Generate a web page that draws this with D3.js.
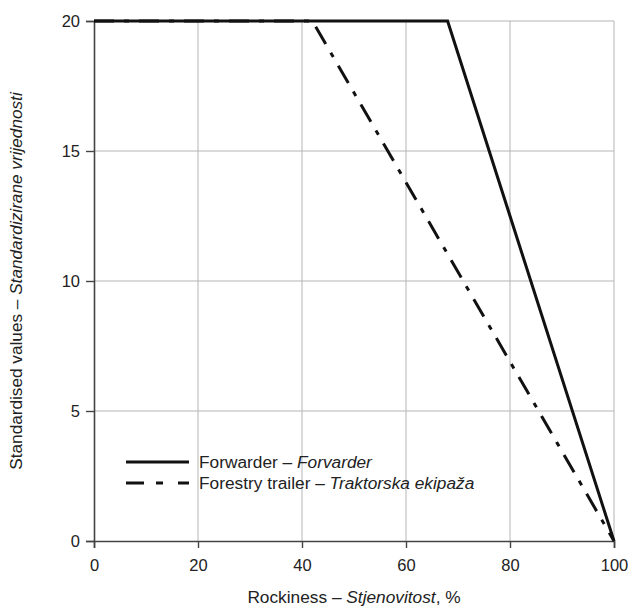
<!DOCTYPE html>
<html>
<head>
<meta charset="utf-8">
<script src="https://cdn.jsdelivr.net/npm/d3@7"></script>
<style>
  body { margin: 0; background: #fff; }
  text { font-family: "Liberation Sans Narrow", "Arial Narrow", "Liberation Sans", Arial, sans-serif; fill: #222; }
</style>
</head>
<body>
<div id="chart"></div>
<script>
// ------------------------------ DATA ------------------------------
var forwarderX = [0, 68, 100],
    forwarderY = [20, 20, 0];
var trailerX = [0, 42, 100],
    trailerY = [20, 20, 0];
var xTicks = [0, 20, 40, 60, 80, 100],
    yTicks = [0, 5, 10, 15, 20];

// ------------------------------ CONFIG ------------------------------
var width = 628, height = 611,
    margin = {left: 94, right: 14, top: 21, bottom: 70},
    plotW = width - margin.left - margin.right,
    plotH = height - margin.top - margin.bottom;

var svg = d3.select("#chart").append("svg")
    .attr("width", width)
    .attr("height", height);

var x = d3.scaleLinear().domain([0, 100]).range([margin.left, margin.left + plotW]),
    y = d3.scaleLinear().domain([0, 20]).range([margin.top + plotH, margin.top]);

// ------------------------------ GRID ------------------------------
svg.append("g").selectAll("line")
    .data(xTicks.slice(1))
    .enter().append("line")
    .attr("x1", function (d) {return x(d);})
    .attr("x2", function (d) {return x(d);})
    .attr("y1", y(0)).attr("y2", y(20))
    .attr("stroke", "#b5b5b5").attr("stroke-width", 1);

svg.append("g").selectAll("line")
    .data(yTicks.slice(1))
    .enter().append("line")
    .attr("x1", x(0)).attr("x2", x(100))
    .attr("y1", function (d) {return y(d);})
    .attr("y2", function (d) {return y(d);})
    .attr("stroke", "#b5b5b5").attr("stroke-width", 1);

// ------------------------------ AXES ------------------------------
var xAxis = svg.append("g")
    .attr("transform", "translate(0," + y(0) + ")")
    .call(d3.axisBottom(x).tickValues(xTicks).tickSize(7).tickPadding(11));
var yAxis = svg.append("g")
    .attr("transform", "translate(" + x(0) + ",0)")
    .call(d3.axisLeft(y).tickValues(yTicks).tickSize(8).tickPadding(6));

[xAxis, yAxis].forEach(function (a) {
    a.select(".domain").attr("stroke", "#444").attr("stroke-width", 1.6);
    a.selectAll(".tick line").attr("stroke", "#444").attr("stroke-width", 1.4);
    a.selectAll(".tick text")
        .attr("font-size", 16.5)
        .attr("font-family", "'Liberation Sans Narrow', 'Arial Narrow', Arial, sans-serif")
        .attr("fill", "#222");
});

// ------------------------------ LINES ------------------------------
var line = d3.line()
    .x(function (d) {return x(d[0]);})
    .y(function (d) {return y(d[1]);});

svg.append("path")
    .datum(d3.zip(trailerX, trailerY))
    .attr("d", line)
    .attr("fill", "none")
    .attr("stroke", "#111")
    .attr("stroke-width", 3)
    .attr("stroke-dasharray", "20,10,5,10");

svg.append("path")
    .datum(d3.zip(forwarderX, forwarderY))
    .attr("d", line)
    .attr("fill", "none")
    .attr("stroke", "#111")
    .attr("stroke-width", 3)
    .attr("stroke-linejoin", "miter");

// ------------------------------ LEGEND ------------------------------
var legend = svg.append("g");
legend.append("line")
    .attr("x1", 126).attr("x2", 189).attr("y1", 462).attr("y2", 462)
    .attr("stroke", "#111").attr("stroke-width", 3);
legend.append("line")
    .attr("x1", 126).attr("x2", 189).attr("y1", 483).attr("y2", 483)
    .attr("stroke", "#111").attr("stroke-width", 3)
    .attr("stroke-dasharray", "18,12,7,15,20");

var l1 = legend.append("text").attr("x", 199).attr("y", 468).attr("font-size", 17.3);
l1.append("tspan").text("Forwarder – ");
l1.append("tspan").attr("font-style", "italic").text("Forvarder");
var l2 = legend.append("text").attr("x", 199).attr("y", 489).attr("font-size", 17.3);
l2.append("tspan").text("Forestry trailer – ");
l2.append("tspan").attr("font-style", "italic").text("Traktorska ekipaža");

// ------------------------------ AXIS LABELS ------------------------------
var xl = svg.append("text")
    .attr("x", (x(0) + x(100)) / 2)
    .attr("y", 603)
    .attr("text-anchor", "middle")
    .attr("font-size", 17.3);
xl.append("tspan").text("Rockiness – ");
xl.append("tspan").attr("font-style", "italic").text("Stjenovitost");
xl.append("tspan").text(", %");

var yl = svg.append("text")
    .attr("transform", "translate(22," + (y(0) + y(20)) / 2 + ") rotate(-90)")
    .attr("text-anchor", "middle")
    .attr("font-size", 17.2);
yl.append("tspan").text("Standardised values – ");
yl.append("tspan").attr("font-style", "italic").text("Standardizirane vrijednosti");
</script>
</body>
</html>
